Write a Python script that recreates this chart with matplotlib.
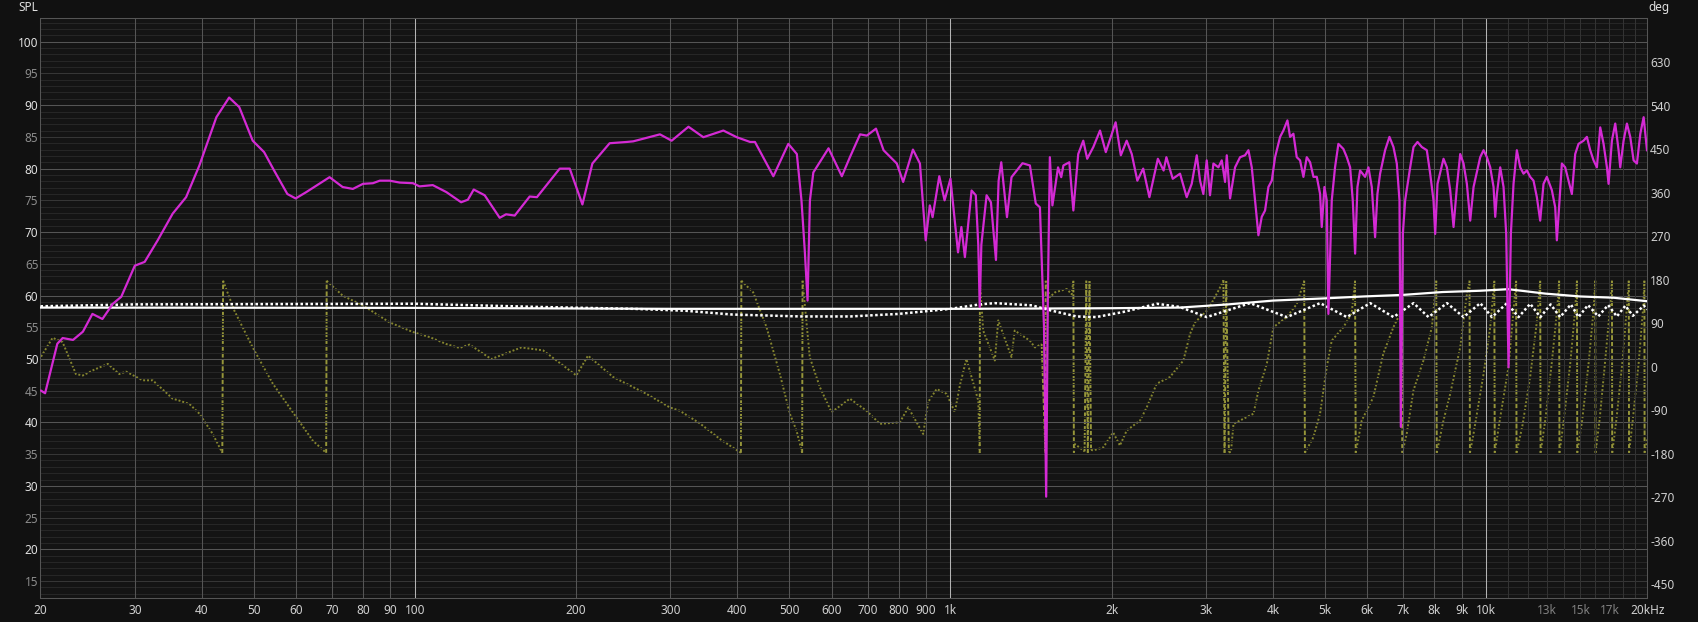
import numpy as np
import matplotlib
matplotlib.use('Agg')
import matplotlib.pyplot as plt

# SPL trace (magenta)
spl_freq = [20.05, 20.4, 21.5, 22.0, 23.0, 24.0, 25.0, 26.1, 27.3, 28.3, 30.0, 31.3, 33.1, 35.3,
            37.4, 39.6, 42.6, 45.0, 47.0, 49.8, 52.3, 54.6, 57.8, 59.9, 62.7, 69.3, 73.3, 76.6,
            80.0, 83.5, 86.0, 89.7, 93.7, 99.2, 102, 108, 114.5, 122, 125.6, 128.8, 135, 144,
            148, 153.6, 163.8, 169, 186.4, 194.6, 205.5, 214.5, 231, 248.6, 255.7, 286.8, 301.6,
            324.2, 345.6, 376.7, 399, 422.6, 431.5, 467, 498, 516.6, 527, 534.6, 541, 546.5,
            554.6, 592, 626.9, 649, 678, 698, 726, 750, 794, 816, 851, 877, 899, 915, 926, 953,
            975, 1000, 1033, 1048, 1064, 1095, 1115, 1127, 1134, 1142, 1168, 1190, 1216, 1230,
            1244, 1275, 1300, 1363, 1407, 1443, 1469, 1495, 1509, 1520, 1533, 1550, 1588, 1610,
            1625, 1667, 1696, 1732, 1770, 1800, 1848, 1902, 1950, 2034, 2080, 2133, 2180, 2233,
            2290, 2352, 2439, 2500, 2530, 2600,
            2683, 2761, 2821, 2883, 2924, 2966, 3009, 3052, 3097, 3164, 3210, 3256, 3280, 3327,
            3399, 3473, 3548, 3600, 3652, 3704, 3758, 3812, 3867, 3923, 3980, 4037, 4125, 4184,
            4257, 4306, 4368, 4431, 4495, 4560, 4626, 4693, 4761, 4830, 4899, 4934, 4991, 5041,
            5077, 5151, 5224, 5300, 5415, 5495, 5574, 5638, 5695, 5752, 5818, 5945, 6031, 6118,
            6206, 6268, 6341, 6479, 6601, 6716, 6813, 6892, 6932, 6992, 7062, 7216, 7320, 7447,
            7587, 7752, 7864, 7977, 8035, 8116, 8328, 8449, 8571, 8695, 8820, 8948, 9077, 9208,
            9341, 9476, 9751,
            9893, 10035, 10180, 10327, 10402, 10476, 10627, 10780, 10904, 11014, 11125, 11253,
            11415, 11580, 11747, 11917, 12089, 12263, 12440, 12620, 12802, 12987, 13269, 13461,
            13557, 13714, 13852, 14052, 14255, 14461, 14670, 14882, 15205, 15425, 15648, 15874,
            16104, 16336, 16572, 16812, 16932, 17177, 17425, 17677, 17804, 18061, 18322, 18586,
            18855, 19127, 19409, 19688, 19973]
spl_db = [45.0, 44.6, 52.4, 53.3, 53.0, 54.3, 57.1, 56.3, 58.7, 59.8, 64.7, 65.3, 68.7, 72.9,
          75.5, 80.5, 88.1, 91.2, 89.7, 84.4, 82.6, 79.7, 76.0, 75.3, 76.3, 78.65, 77.1, 76.8,
          77.6, 77.7, 78.1, 78.1, 77.8, 77.7, 77.2, 77.4, 76.3, 74.7, 75.1, 76.7, 75.8, 72.25,
          72.8, 72.6, 75.6, 75.5, 80.0, 80.0, 74.35, 80.8, 84.0, 84.2, 84.3, 85.4, 84.4,
          86.6, 84.95, 86.0, 84.95, 84.2, 84.2, 78.8, 83.9, 82.3, 75.0, 67.0, 59.2, 75.0,
          79.4, 83.2, 78.8, 81.8, 85.4, 85.2, 86.3, 82.9, 80.8, 77.9, 83.0, 80.8, 68.7, 74.2, 72.35, 78.8,
          75.0, 78.4, 66.8, 70.8, 66.05, 76.55, 75.8, 68.0, 58.2, 68.0, 75.8, 74.7, 65.6, 78.1,
          81.0, 72.35, 78.65, 80.85, 80.5, 74.5, 73.9, 55.0, 28.3, 60.0, 81.8, 74.2, 80.2, 78.65,
          80.5, 81.0, 73.4, 82.3, 84.4, 81.55, 83.4, 86.0, 82.6, 87.3, 82.1, 84.4, 82.3, 78.1,
          80.0, 75.5, 81.55, 79.7, 81.8, 78.4,
          79.2, 75.5, 77.6, 82.1, 78.1, 76.0, 81.3, 75.8, 80.8, 80.2, 81.3, 77.9, 82.1, 75.3,
          80.2, 81.8, 82.1, 82.9, 80.2, 75.0, 69.5, 72.4, 73.4, 77.1, 78.1, 81.8, 85.0, 86.0,
          87.6, 85.0, 85.5, 81.8, 81.3, 78.7, 81.8, 81.0, 78.7, 78.7, 76.0, 70.8, 77.1, 75.0,
          57.1, 75.0, 80.2, 83.9, 83.1, 81.8, 80.2, 75.0, 66.6, 77.1, 79.7, 78.7, 80.2, 77.1,
          69.2, 76.0, 79.2, 82.9, 85.0, 83.4, 80.8, 75.0, 39.3, 69.7, 75.0, 80.2, 83.4, 84.2,
          83.4, 82.9, 79.2, 75.0, 69.7, 77.6, 81.55, 80.2, 76.6, 70.8, 77.1, 82.3, 80.8, 77.6,
          71.8, 77.1, 81.8,
          82.9, 81.8, 80.2, 77.1, 72.4, 76.0, 80.2, 77.1, 69.7, 48.7, 69.7, 77.6,
          82.9, 80.2, 79.2, 79.7, 78.7, 78.1, 75.5, 71.8, 77.6, 78.7, 76.6, 73.9,
          68.7, 75.0, 80.8, 80.2, 78.1, 76.0, 82.3, 83.9, 84.4, 85.0, 82.9, 81.3,
          80.2, 86.5, 83.9, 80.2, 77.6, 84.4, 87.1, 82.9, 80.2, 84.4, 87.1, 85.0,
          81.3, 80.8, 85.5, 88.1, 82.9]

# white solid trace
ref_freq = [20, 100, 300, 600, 1000, 1500, 2000, 2680, 3300, 4000, 5000, 5900, 7000, 8300,
            9750, 11000, 12900, 15000, 17300, 20000]
ref_db = [58.1, 58.05, 57.9, 57.9, 57.9, 57.95, 58.0, 58.1, 58.6, 59.2, 59.55, 59.85, 60.1,
          60.55, 60.75, 61.0, 60.3, 59.85, 59.65, 59.1]

# white dotted trace
dot_freq = [20, 30, 100, 170, 256, 320, 392, 525, 650, 800, 1000, 1134, 1210, 1420, 1530, 1720,
            1870, 2100, 2430, 2680, 3009, 3626, 4246, 4900, 5497, 6077, 6717, 7322, 7808, 8453,
            9078, 9754, 10260, 10940, 11500, 12090, 12630, 13200, 13750, 14400, 14880, 15500,
            16200, 16900, 17550, 18200, 18800, 19700, 20000]
dot_db = [58.3, 58.6, 58.7, 58.2, 57.9, 57.6, 57.0, 56.7, 56.7, 57.1, 57.9, 58.6, 58.8, 58.45,
          57.7, 56.7, 56.6, 57.4, 58.7, 58.2, 56.6, 58.8, 56.6, 58.8, 56.6, 58.8, 56.6, 58.8,
          56.6, 58.8, 56.6, 58.8, 56.6, 58.8, 56.6, 58.7, 56.6, 58.6, 56.6, 58.6, 56.6, 58.5,
          56.7, 58.5, 56.7, 58.4, 56.8, 58.4, 57.8]

# phase trace (wrapped, deg)
ph_freq = [20.05, 21.07, 21.99, 23.29, 23.99, 25.2, 26.71, 28.06, 28.89, 31.04, 32.4, 35.31,
           36.33, 37.94, 39.6, 41.94, 43.7, 43.85, 46.03, 49.8, 54.3, 60.03, 64.5, 68.3, 68.45,
           73.35, 79.96, 89.66, 99.1, 106.8, 114.5, 121.2, 126.5, 138.9, 158, 173.5, 200.2,
           210.5, 234.4, 270.6, 299.1, 312.3, 340.4, 371.8, 406.2, 407, 428.2, 453.5, 480.3,
           501.2, 515.9, 528.5, 529.5, 546.1, 570.3, 599.7, 648.9, 697.1, 738.3, 804.4, 834,
           889.3, 908.5, 942.2, 983.5, 1019, 1041, 1071, 1127, 1134, 1135, 1151, 1210, 1228,
           1300, 1318, 1407, 1438, 1480, 1504, 1506, 1533, 1567, 1648, 1684, 1696, 1700, 1708,
           1780, 1793, 1805, 1818, 1830, 1847, 1928, 2013, 2072, 2133, 2260, 2325, 2427, 2570,
           2722, 2801, 2862, 3029, 3173, 3233, 3249, 3272, 3310, 3340, 3376, 3680, 3758, 3896,
           4009, 4246, 4433, 4575, 4590, 4759, 4898, 5041, 5150, 5416, 5611, 5693, 5710, 5860,
           6159, 6429, 6714, 6911, 6959, 6975, 7109, 7318, 7640, 7923, 8072, 8090, 8327, 8572,
           8947, 9210, 9313, 9330, 9474, 9893, 10180, 10360, 10380, 10630, 11010, 11380, 11400,
           11700, 12090, 12430, 12620, 12640, 12900, 13270, 13580, 13690, 13710, 13970, 14370,
           14670, 14780, 14800, 15120, 15550, 15880, 15990, 16010, 16290, 16680, 17030, 17180,
           17200, 17510, 17970, 18310, 18470, 18490, 18790, 19280, 19640, 19750, 19770, 20000]
ph_deg = [21, 60, 51, -15, -18, -6, 6, -15, -10, -28, -28, -66,
          -70, -77, -97, -139, -178, 178, 116, 40, -35, -104, -153, -178, 178,
          147, 127, 92, 72, 61, 47, 39, 46, 16, 40, 34, -18,
          23, -21, -56, -84, -91, -117, -150, -178, 178, 154, 82, -15,
          -97, -132, -178, 178, 20, -42, -94, -66, -91, -118, -115, -84,
          -139, -73, -46, -56, -94, -39, 16, -70, -178, 178, 75, 13, 96,
          20, 75, 54, 40, 47, -178, 178, 144, 154, 161, 150, 178, -178, -160,
          -175, 178, -178, 177, -172, -173, -167, -136, -163, -132, -111, -84, -35, -21,
          13, 68, 92, 119, 160, 179, -178, 177, -177, -176, -118, -97, -49, 6,
          82, 103, 130, 178, -178, -146, -97, -1, 54, 82, 110, 178, -178, -111,
          -63, 27, 82, 110, 178, -178, -139, -49, 13, 82, 178, -178, -111, -56,
          40, 151, 178, -178, -139, -15, 82, 178, -178, -104, -1, 178, -178,
          -120, -20, 90, 178, -178, -110, 10, 120, 178, -178, -110, 10,
          120, 178, -178, -110, 10, 120, 178, -178, -110, 10, 120, 178,
          -178, -110, 10, 120, 178, -178, -110, 10, 120, 178, -178, -150]

x_ticks = [20, 30, 40, 50, 60, 70, 80, 90, 100, 200, 300, 400, 500, 600, 700, 800, 900,
           1000, 2000, 3000, 4000, 5000, 6000, 7000, 8000, 9000, 10000, 13000, 15000, 17000, 20000]
x_labels = ['20', '30', '40', '50', '60', '70', '80', '90', '100', '200', '300', '400', '500',
            '600', '700', '800', '900', '1k', '2k', '3k', '4k', '5k', '6k', '7k', '8k', '9k',
            '10k', '13k', '15k', '17k', '20kHz']
spl_ticks = list(range(15, 101, 5))
deg_ticks = list(range(-450, 631, 90))

W, H = 1699, 622
plt.rcParams['font.family'] = ['Noto Sans', 'DejaVu Sans']
fig = plt.figure(figsize=(W / 100, H / 100), dpi=100, facecolor='#111111')
L, R, T, B = 40.5, 1647.3, 18.3, 598.3
ax = fig.add_axes([L / W, 1 - B / H, (R - L) / W, (B - T) / H])
ax.set_xscale('log')
ax.set_xlim(20, 20000)
ax.set_ylim(12.28, 103.69)

ax2 = ax.twinx()
ax2.set_ylim(-479, 721)
for s in ax2.spines.values():
    s.set_visible(False)
# phase axis drawn underneath the SPL traces
ax2.set_zorder(ax.get_zorder() - 1)
ax.patch.set_visible(False)
ax2.patch.set_visible(True)
ax2.patch.set_facecolor('#141414')

# grid
for v in range(13, 104):
    c = '#555555' if v % 10 == 0 else ('#363636' if v % 5 == 0 else '#262626')
    ax.axhline(v, color=c, lw=0.75, zorder=0)
for f in x_ticks[1:-1] + [11000, 12000, 14000, 16000, 18000, 19000]:
    if f in (100, 1000, 10000):
        c = '#b4b4b4'
    elif f > 10000:
        c = '#333333'
    else:
        c = '#555555'
    ax.axvline(f, color=c, lw=0.75, zorder=0)

for s in ax.spines.values():
    s.set_color('#555555')
    s.set_linewidth(0.75)

# phase: dotted segments, dashed wrap jumps
pf = np.array(ph_freq)
pd = np.array(ph_deg)
jumps = np.where(np.abs(np.diff(pd)) > 180)[0]
starts = np.r_[0, jumps + 1]
ends = np.r_[jumps + 1, len(pf)]
for s, e in zip(starts, ends):
    ax2.plot(pf[s:e], pd[s:e], color='#85852f', lw=1.4, ls=(0, (1, 1)), zorder=2)
for j in jumps:
    ax2.plot([pf[j], pf[j + 1]], [pd[j], pd[j + 1]], color='#96963a', lw=1.4,
             ls=(0, (2.5, 1)), zorder=2)

ax.plot(ref_freq, ref_db, color='#ffffff', lw=1.6, zorder=3)
ax.plot(dot_freq, dot_db, color='#ffffff', lw=1.8, ls=(0, (1, 1)), zorder=3)
ax.plot(spl_freq, spl_db, color='#d42ad4', lw=1.6, zorder=4)

# ticks
ax.set_xticks(x_ticks)
ax.set_xticklabels(x_labels)
ax.xaxis.set_minor_locator(matplotlib.ticker.NullLocator())
ax.set_yticks(spl_ticks)
ax.set_yticklabels([str(v) for v in spl_ticks])
ax.tick_params(axis='x', length=0, pad=4, labelsize=8.5, colors='#d0d0d0')
ax.tick_params(axis='y', length=0, pad=1.5, labelsize=8.5, colors='#d0d0d0')
for lab, f in zip(ax.get_xticklabels(), x_ticks):
    if f in (13000, 15000, 17000):
        lab.set_color('#808080')
for lab, v in zip(ax.get_yticklabels(), spl_ticks):
    lab.set_color('#e0e0e0' if v % 10 == 0 else '#8c8c8c')
ax2.set_yticks(deg_ticks)
ax2.set_yticklabels([str(v) for v in deg_ticks])
ax2.tick_params(axis='y', length=0, pad=2, labelsize=8.5, colors='#d0d0d0')

fig.text(28 / W, 1 - 7.5 / H, 'SPL', ha='center', va='center', color='#e0e0e0', fontsize=8.5)
fig.text(1659 / W, 1 - 8 / H, 'deg', ha='center', va='center', color='#e0e0e0', fontsize=8.5)

fig.savefig('out.png', dpi=100, facecolor=fig.get_facecolor())
